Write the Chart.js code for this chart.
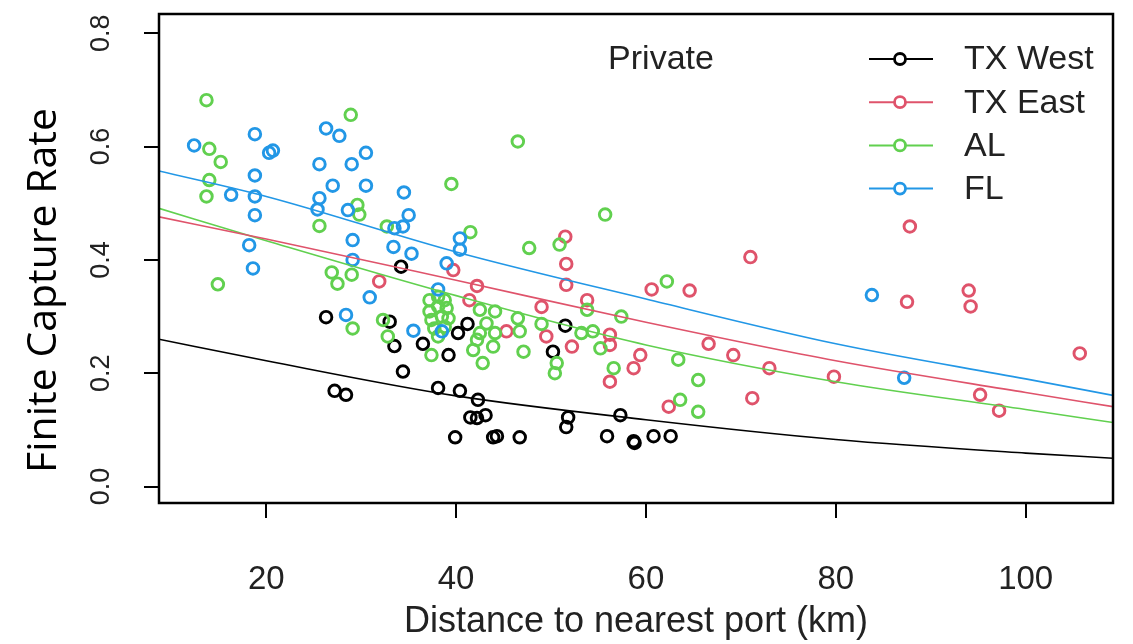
<!DOCTYPE html>
<html>
<head>
<meta charset="utf-8">
<script src="https://cdn.jsdelivr.net/npm/chart.js@4.4.1/dist/chart.umd.min.js"></script>
<style>
  html, body { margin: 0; padding: 0; background: #fff; }
  #wrap { width: 1133px; height: 644px; }
</style>
</head>
<body>
<div id="wrap"><canvas id="chart" width="1133" height="644"></canvas></div>
<script>
// distance (km) and finite capture rate
const westX = [26.3, 27.2, 28.4, 33.0, 33.5, 34.2, 34.4, 36.5, 38.1, 39.2, 39.9, 40.2, 40.4, 41.2, 41.5, 42.2, 42.3, 43.1, 43.9, 44.3, 46.7, 50.2, 51.5, 51.6, 51.8, 55.9, 57.3, 58.7, 58.8, 60.8, 62.6];
const westY = [0.299, 0.169, 0.162, 0.291, 0.248, 0.388, 0.203, 0.252, 0.174, 0.232, 0.087, 0.271, 0.169, 0.287, 0.122, 0.121, 0.153, 0.126, 0.087, 0.089, 0.087, 0.238, 0.284, 0.105, 0.122, 0.089, 0.126, 0.080, 0.077, 0.089, 0.089];

const eastX = [31.9, 39.7, 41.4, 42.2, 45.3, 49.0, 49.5, 51.5, 51.6, 51.6, 52.2, 53.8, 56.2, 56.2, 56.2, 58.7, 59.4, 60.6, 62.4, 64.6, 66.6, 69.2, 71.0, 71.2, 73.0, 79.8, 87.5, 87.8, 94.0, 94.2, 95.2, 97.2, 105.7];
const eastY = [0.362, 0.382, 0.329, 0.354, 0.274, 0.317, 0.265, 0.441, 0.393, 0.356, 0.247, 0.329, 0.268, 0.250, 0.185, 0.209, 0.232, 0.348, 0.141, 0.346, 0.252, 0.232, 0.405, 0.156, 0.209, 0.194, 0.326, 0.459, 0.346, 0.318, 0.162, 0.134, 0.235];

const alX = [13.7, 13.7, 14.0, 14.0, 14.9, 15.2, 25.6, 26.9, 27.5, 28.9, 29.0, 29.1, 29.6, 29.8, 32.3, 32.7, 32.8, 37.2, 37.2, 37.4, 37.4, 37.7, 38.1, 38.1, 38.1, 38.5, 38.8, 38.8, 39.0, 39.2, 39.5, 41.5, 41.8, 42.2, 42.5, 42.5, 42.8, 43.2, 43.9, 44.1, 44.1, 46.5, 46.5, 46.7, 47.1, 47.7, 49.0, 50.4, 50.6, 50.9, 53.2, 53.8, 54.4, 55.2, 55.7, 56.6, 57.4, 62.2, 63.4, 63.6, 65.5, 65.5];
const alY = [0.682, 0.512, 0.596, 0.541, 0.357, 0.573, 0.460, 0.378, 0.358, 0.656, 0.374, 0.279, 0.497, 0.480, 0.294, 0.459, 0.265, 0.329, 0.309, 0.294, 0.232, 0.279, 0.335, 0.318, 0.265, 0.300, 0.329, 0.282, 0.315, 0.297, 0.534, 0.449, 0.241, 0.259, 0.312, 0.271, 0.218, 0.288, 0.247, 0.309, 0.271, 0.609, 0.297, 0.274, 0.238, 0.421, 0.287, 0.200, 0.218, 0.427, 0.271, 0.312, 0.274, 0.244, 0.480, 0.209, 0.300, 0.362, 0.224, 0.153, 0.188, 0.132];

const flX = [12.4, 16.3, 18.2, 18.6, 18.8, 18.8, 18.8, 18.8, 20.3, 20.7, 25.4, 25.6, 25.6, 26.3, 27.0, 27.7, 28.4, 28.6, 29.0, 29.1, 29.1, 30.5, 30.5, 30.9, 33.4, 33.5, 34.4, 34.5, 35.0, 35.3, 35.5, 38.1, 38.5, 39.0, 40.4, 40.4, 83.8, 87.2];
const flY = [0.602, 0.515, 0.426, 0.385, 0.622, 0.549, 0.512, 0.479, 0.589, 0.593, 0.489, 0.569, 0.509, 0.632, 0.531, 0.619, 0.303, 0.488, 0.569, 0.435, 0.400, 0.589, 0.531, 0.334, 0.423, 0.456, 0.459, 0.519, 0.479, 0.411, 0.275, 0.348, 0.274, 0.394, 0.438, 0.418, 0.338, 0.192];

// fitted curves, read at a few distances
const fitX = [8.7, 20, 40, 60, 80, 100, 109.2];
const fitWest = [0.260, 0.222, 0.160, 0.118, 0.083, 0.059, 0.050];
const fitEast = [0.476, 0.437, 0.364, 0.290, 0.222, 0.166, 0.141];
const fitAL = [0.491, 0.434, 0.337, 0.250, 0.185, 0.136, 0.113];
const fitFL = [0.557, 0.512, 0.414, 0.331, 0.252, 0.190, 0.161];

const regions = ['TX West', 'TX East', 'AL', 'FL'];
const colors = ['#000000', '#DF536B', '#61D04F', '#2297E6'];
const xTicks = [20, 40, 60, 80, 100];
const yTicks = [0.0, 0.2, 0.4, 0.6, 0.8];
const panelLabel = 'Private';

const pts = (xs, ys) => xs.map((x, i) => ({ x: x, y: ys[i] }));

const pointSets = [[westX, westY], [eastX, eastY], [alX, alY], [flX, flY]];
const fitSets = [fitWest, fitEast, fitAL, fitFL];

const datasets = [];
fitSets.forEach((ys, i) => {
    datasets.push({
        label: regions[i] + ' fit',
        data: pts(fitX, ys),
        showLine: true,
        borderColor: colors[i],
        borderWidth: 1.6,
        pointRadius: 0,
        cubicInterpolationMode: 'monotone',
        order: 0
    });
});
pointSets.forEach((s, i) => {
    datasets.push({
        label: regions[i],
        data: pts(s[0], s[1]),
        showLine: false,
        borderColor: colors[i],
        backgroundColor: 'rgba(0,0,0,0)',
        borderWidth: 2.9,
        pointRadius: 5.8,
        order: 1 + (3 - i)
    });
});

const font = '"Liberation Sans", Arial, sans-serif';

// box around the plot, panel label and the legend
const framePlugin = {
    id: 'frame',
    afterDatasetsDraw(chart) {
        const { ctx, chartArea: a } = chart;
        ctx.save();
        ctx.strokeStyle = '#000';
        ctx.lineWidth = 2.5;
        ctx.strokeRect(a.left, a.top, a.right - a.left, a.bottom - a.top);

        ctx.fillStyle = '#222';
        ctx.font = '34px ' + font;
        ctx.textAlign = 'center';
        ctx.textBaseline = 'middle';
        ctx.fillText(panelLabel, 661, 60);

        ctx.textAlign = 'left';
        regions.forEach((name, i) => {
            const y = 59 + i * 43.2;
            ctx.strokeStyle = colors[i];
            ctx.lineWidth = 2;
            ctx.beginPath();
            ctx.moveTo(869, y);
            ctx.lineTo(933, y);
            ctx.stroke();
            ctx.lineWidth = 2.8;
            ctx.beginPath();
            ctx.arc(900, y, 5.5, 0, Math.PI * 2);
            ctx.fillStyle = '#fff';
            ctx.fill();
            ctx.stroke();
            ctx.fillStyle = '#222';
            ctx.fillText(name, 964, y + 1);
        });
        ctx.restore();
    }
};

new Chart(document.getElementById('chart'), {
    type: 'scatter',
    data: { datasets: datasets },
    options: {
        responsive: false,
        animation: false,
        devicePixelRatio: 1,
        layout: { padding: { top: 14, right: 20, left: 0, bottom: 0 } },
        plugins: {
            legend: { display: false },
            tooltip: { enabled: false }
        },
        scales: {
            x: {
                type: 'linear',
                min: 8.7,
                max: 109.2,
                afterBuildTicks: axis => { axis.ticks = xTicks.map(v => ({ value: v })); },
                afterFit: axis => {
                    axis.height = 141;
                    axis.paddingLeft = 0;
                    axis.paddingRight = 0;
                },
                grid: { drawOnChartArea: false, drawTicks: true, tickLength: 15, color: '#000', lineWidth: 2 },
                border: { display: false },
                ticks: { color: '#222', font: { family: font, size: 33 }, padding: 42, maxRotation: 0 },
                title: { display: true, text: 'Distance to nearest port (km)', color: '#222', font: { family: font, size: 36 }, padding: { top: 0, bottom: 0 } }
            },
            y: {
                type: 'linear',
                min: -0.029,
                max: 0.834,
                afterBuildTicks: axis => { axis.ticks = yTicks.map(v => ({ value: v })); },
                afterFit: axis => {
                    axis.width = 159;
                    axis.paddingTop = 0;
                    axis.paddingBottom = 0;
                },
                grid: { drawOnChartArea: false, drawTicks: true, tickLength: 15, color: '#000', lineWidth: 2 },
                border: { display: false },
                ticks: {
                    color: '#222',
                    font: { family: font, size: 27 },
                    padding: 24,
                    minRotation: 90,
                    maxRotation: 90,
                    crossAlign: 'center',
                    callback: v => v.toFixed(1)
                },
                title: { display: true, text: 'Finite Capture Rate      ', color: '#000', font: { family: '"Open Sans", sans-serif', size: 41 }, padding: { top: 20, bottom: 0 } }
            }
        }
    },
    plugins: [framePlugin]
});
</script>
</body>
</html>
